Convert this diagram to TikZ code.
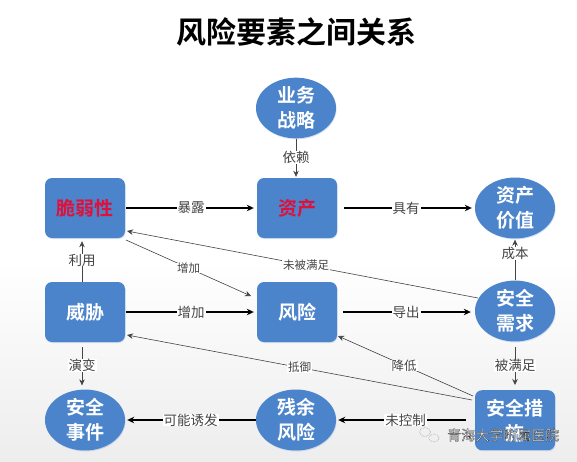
\documentclass[tikz,border=0pt]{standalone}
\usepackage{fontspec}
\usetikzlibrary{arrows.meta,shapes.geometric,shadows}
\setmainfont{Noto Sans CJK SC}
\newfontfamily\cjkbold{Noto Sans CJK SC Bold}
\definecolor{nodeblue}{HTML}{4B84CB}
\definecolor{alertred}{HTML}{E0103A}
\definecolor{linkgrey}{HTML}{444444}
\tikzset{
  x=1pt,y=-1pt,
  base/.style={fill=nodeblue,draw=none,align=center,text=white,
    font=\cjkbold\fontsize{19}{25}\selectfont,inner sep=0pt,
    drop shadow={shadow xshift=.6pt,shadow yshift=-1pt,opacity=.22,fill=nodeblue}},
  boxnode/.style={base,rectangle,rounded corners=7pt,minimum width=80pt,minimum height=60pt},
  ovalnode/.style={base,ellipse,minimum width=80pt,minimum height=53pt},
  alert/.style={text=alertred},
  mainlink/.style={draw=black,line width=1.1pt,-{Stealth[length=7pt,width=6.5pt]}},
  thinlink/.style={draw=linkgrey,line width=.6pt,-{Stealth[length=6pt,width=5.5pt]}},
  lab/.style={fill=white,inner xsep=1pt,inner ysep=0pt,text=linkgrey,font=\fontsize{13.5}{15}\selectfont},
  midlab/.style={lab,font=\fontsize{12.5}{14}\selectfont},
  smalllab/.style={lab,font=\fontsize{11.5}{13}\selectfont},
}
\begin{document}
\begin{tikzpicture}
\useasboundingbox (0,0) rectangle (577,461);
\fill[white] (0,0) rectangle (577,461);
\shade[top color=white,bottom color=black!7] (0,260) rectangle (577,461);
\node[font=\cjkbold\fontsize{30}{33}\selectfont] (title) at (296,32) {风险要素之间关系};

\node[ovalnode] (strategy) at (296,108) {业务\\战略};
\node[boxnode,alert] (vuln) at (85,208) {脆弱性};
\node[boxnode,alert] (asset) at (297,208) {资产};
\node[ovalnode] (value) at (515,208) {资产\\价值};
\node[boxnode] (threat) at (85,312) {威胁};
\node[boxnode] (risk) at (297,312) {风险};
\node[ovalnode] (need) at (515,311) {安全\\需求};
\node[ovalnode] (event) at (85,420) {安全\\事件};
\node[ovalnode] (residual) at (296,420) {残余\\风险};
\node[boxnode,anchor=north] (measure) at (515,390) {安全措\\施};

\coordinate (needW) at (478,298);
\coordinate (vulnSE) at (127,231);
\coordinate (vulnS) at (126,240);
\coordinate (riskNW) at (251,296);
\coordinate (measA) at (472,400);
\coordinate (measB) at (473,396);
\coordinate (threatSE) at (127,335);
\coordinate (riskSE) at (338,336);

\draw[thinlink] (strategy.south) -- node[lab] {依赖} ([yshift=1pt]asset.north -| strategy.south);
\draw[mainlink,shorten <=1pt,shorten >=3pt] (vuln.east) -- node[lab] {暴露} (asset.west);
\draw[mainlink,shorten <=7pt,shorten >=3pt] (asset.east) -- node[lab] {具有} (value.west);
\draw[mainlink,shorten <=1pt,shorten >=3pt] (threat.east) -- node[lab] {增加} (risk.west);
\draw[mainlink,shorten <=6pt,shorten >=4pt] (risk.east) -- node[lab] {导出} (risk.east -| need.west);
\draw[mainlink,shorten <=0pt,shorten >=2pt] (residual.west) -- node[lab] {可能诱发} (event.east);
\draw[mainlink,shorten <=9pt,shorten >=2pt] (measure.west |- residual.east) -- node[lab] {未控制} (residual.east);
\draw[thinlink,shorten >=3pt] (threat.north -| 82,0) -- node[lab] {利用} (vuln.south -| 82,0);
\draw[thinlink,shorten <=5pt,shorten >=4pt] (threat.south -| 82,0) -- node[lab] {演变} (event.north -| 82,0);
\draw[thinlink,shorten >=1pt] (need.north) -- node[lab,pos=.64] {成本} (value.south);
\draw[thinlink,shorten <=5pt,shorten >=5pt] (need.south) -- node[lab] {被满足} (measure.north);
\draw[thinlink] (needW) -- node[smalllab,pos=.49] {未被满足} (vulnSE);
\draw[thinlink] (vulnS) -- node[smalllab,pos=.5] {增加} (riskNW);
\draw[thinlink] (measA) -- node[smalllab,pos=.5] {抵御} (threatSE);
\draw[thinlink] (measB) -- node[midlab,pos=.51] {降低} (riskSE);

\node[font=\fontsize{14}{16}\selectfont,text=white,anchor=west,inner sep=0pt] (mark) at (447,435) {\special{pdf:code q 2 Tr 0.25 w 0.2 0.2 0.2 RG 0.93 0.93 0.93 rg}青海大学附属医院\special{pdf:code 0 Tr Q}};
\draw[black!45,line width=.5pt,densely dotted] (425,432) ellipse (5.5 and 4.5) (434,438) ellipse (5 and 4);
\end{tikzpicture}
\end{document}
